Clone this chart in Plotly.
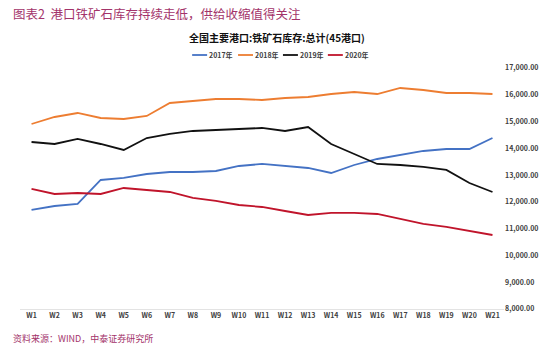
import plotly.graph_objects as go

weeks = [f"W{i}" for i in range(1, 22)]
y2017 = [11698, 11847, 11922, 12818, 12893, 13042, 13117, 13117, 13154, 13341, 13416,
         13341, 13266, 13079, 13378, 13602, 13751, 13901, 13975, 13975, 14386]
y2018 = [14909, 15170, 15320, 15133, 15096, 15208, 15693, 15768, 15842, 15842, 15805,
         15880, 15917, 16029, 16104, 16029, 16253, 16178, 16066, 16066, 16029]
y2019 = [14237, 14162, 14349, 14162, 13938, 14386, 14536, 14648, 14685, 14722, 14760,
         14648, 14797, 14162, 13789, 13416, 13378, 13304, 13192, 12706, 12370]
y2020 = [12482, 12295, 12332, 12295, 12519, 12444, 12370, 12146, 12034, 11884, 11810,
         11660, 11511, 11586, 11586, 11548, 11362, 11175, 11063, 10914, 10764]
yticks = list(range(8000, 17001, 1000))

series = [("2017年", y2017, "#4472C4"), ("2018年", y2018, "#ED7D31"),
          ("2019年", y2019, "#111111"), ("2020年", y2020, "#C0142B")]

cjk = "Noto Sans CJK SC"
W, H = 550, 353
L, R, T, B = 19.5, 45.5, 68, 44
PW, PH = W - L - R, H - T - B

def px(x):
    return (x - L) / PW

def py(y):
    return 1 - (y - T) / PH

fig = go.Figure()
for name, ys, col in series:
    fig.add_trace(go.Scatter(x=weeks, y=ys, name=name, mode="lines",
                             line=dict(color=col, width=1.8), showlegend=False))

shapes = []
annotations = [
    dict(text="图表2  港口铁矿石库存持续走低，供给收缩值得关注", xref="paper", yref="paper",
         x=px(10), y=py(14), xanchor="left", yanchor="middle",
         showarrow=False, font=dict(size=12.5, color="#A3336A", family=cjk)),
    dict(text="<b>全国主要港口:铁矿石库存:总计(45港口)</b>", xref="paper", yref="paper",
         x=px(277), y=py(37), xanchor="center", yanchor="middle",
         showarrow=False, font=dict(size=10, color="#111111", family=cjk)),
    dict(text="资料来源：WIND，中泰证券研究所", xref="paper", yref="paper",
         x=px(10), y=py(338), xanchor="left", yanchor="middle",
         showarrow=False, font=dict(size=9, color="#A3336A", family=cjk)),
]
leg_x = [192, 238, 283, 328]
for (name, ys, col), x0 in zip(series, leg_x):
    shapes.append(dict(type="line", xref="paper", yref="paper",
                       x0=px(x0), x1=px(x0 + 15), y0=py(55), y1=py(55),
                       line=dict(color=col, width=1.8)))
    annotations.append(dict(text=f"<b>{name}</b>", xref="paper", yref="paper",
                            x=px(x0 + 15), y=py(55.5), xanchor="left", yanchor="middle",
                            showarrow=False, font=dict(size=7, color="#404040", family=cjk)))

fig.update_layout(
    width=W, height=H,
    margin=dict(l=L, r=R, t=T, b=B),
    paper_bgcolor="white", plot_bgcolor="white",
    font=dict(family=cjk, color="#404040"),
    showlegend=False,
    shapes=shapes,
    annotations=annotations,
    xaxis=dict(type="category", range=[-0.5, 20.5], showgrid=False, showline=True,
               linecolor="#E3E3E3", linewidth=1, ticks="",
               tickvals=weeks, ticktext=[f"<b>{w}</b>" for w in weeks],
               tickfont=dict(size=7, family=cjk, color="#404040"),
               zeroline=False, fixedrange=True),
    yaxis=dict(side="right", range=[8000, 17000], showgrid=False, zeroline=False,
               showline=False, ticks="",
               tickvals=yticks, ticktext=[f"<b>{v:,.2f}</b>" for v in yticks],
               tickfont=dict(size=7, family=cjk, color="#404040"), fixedrange=True),
)
fig.write_html("out.html")
